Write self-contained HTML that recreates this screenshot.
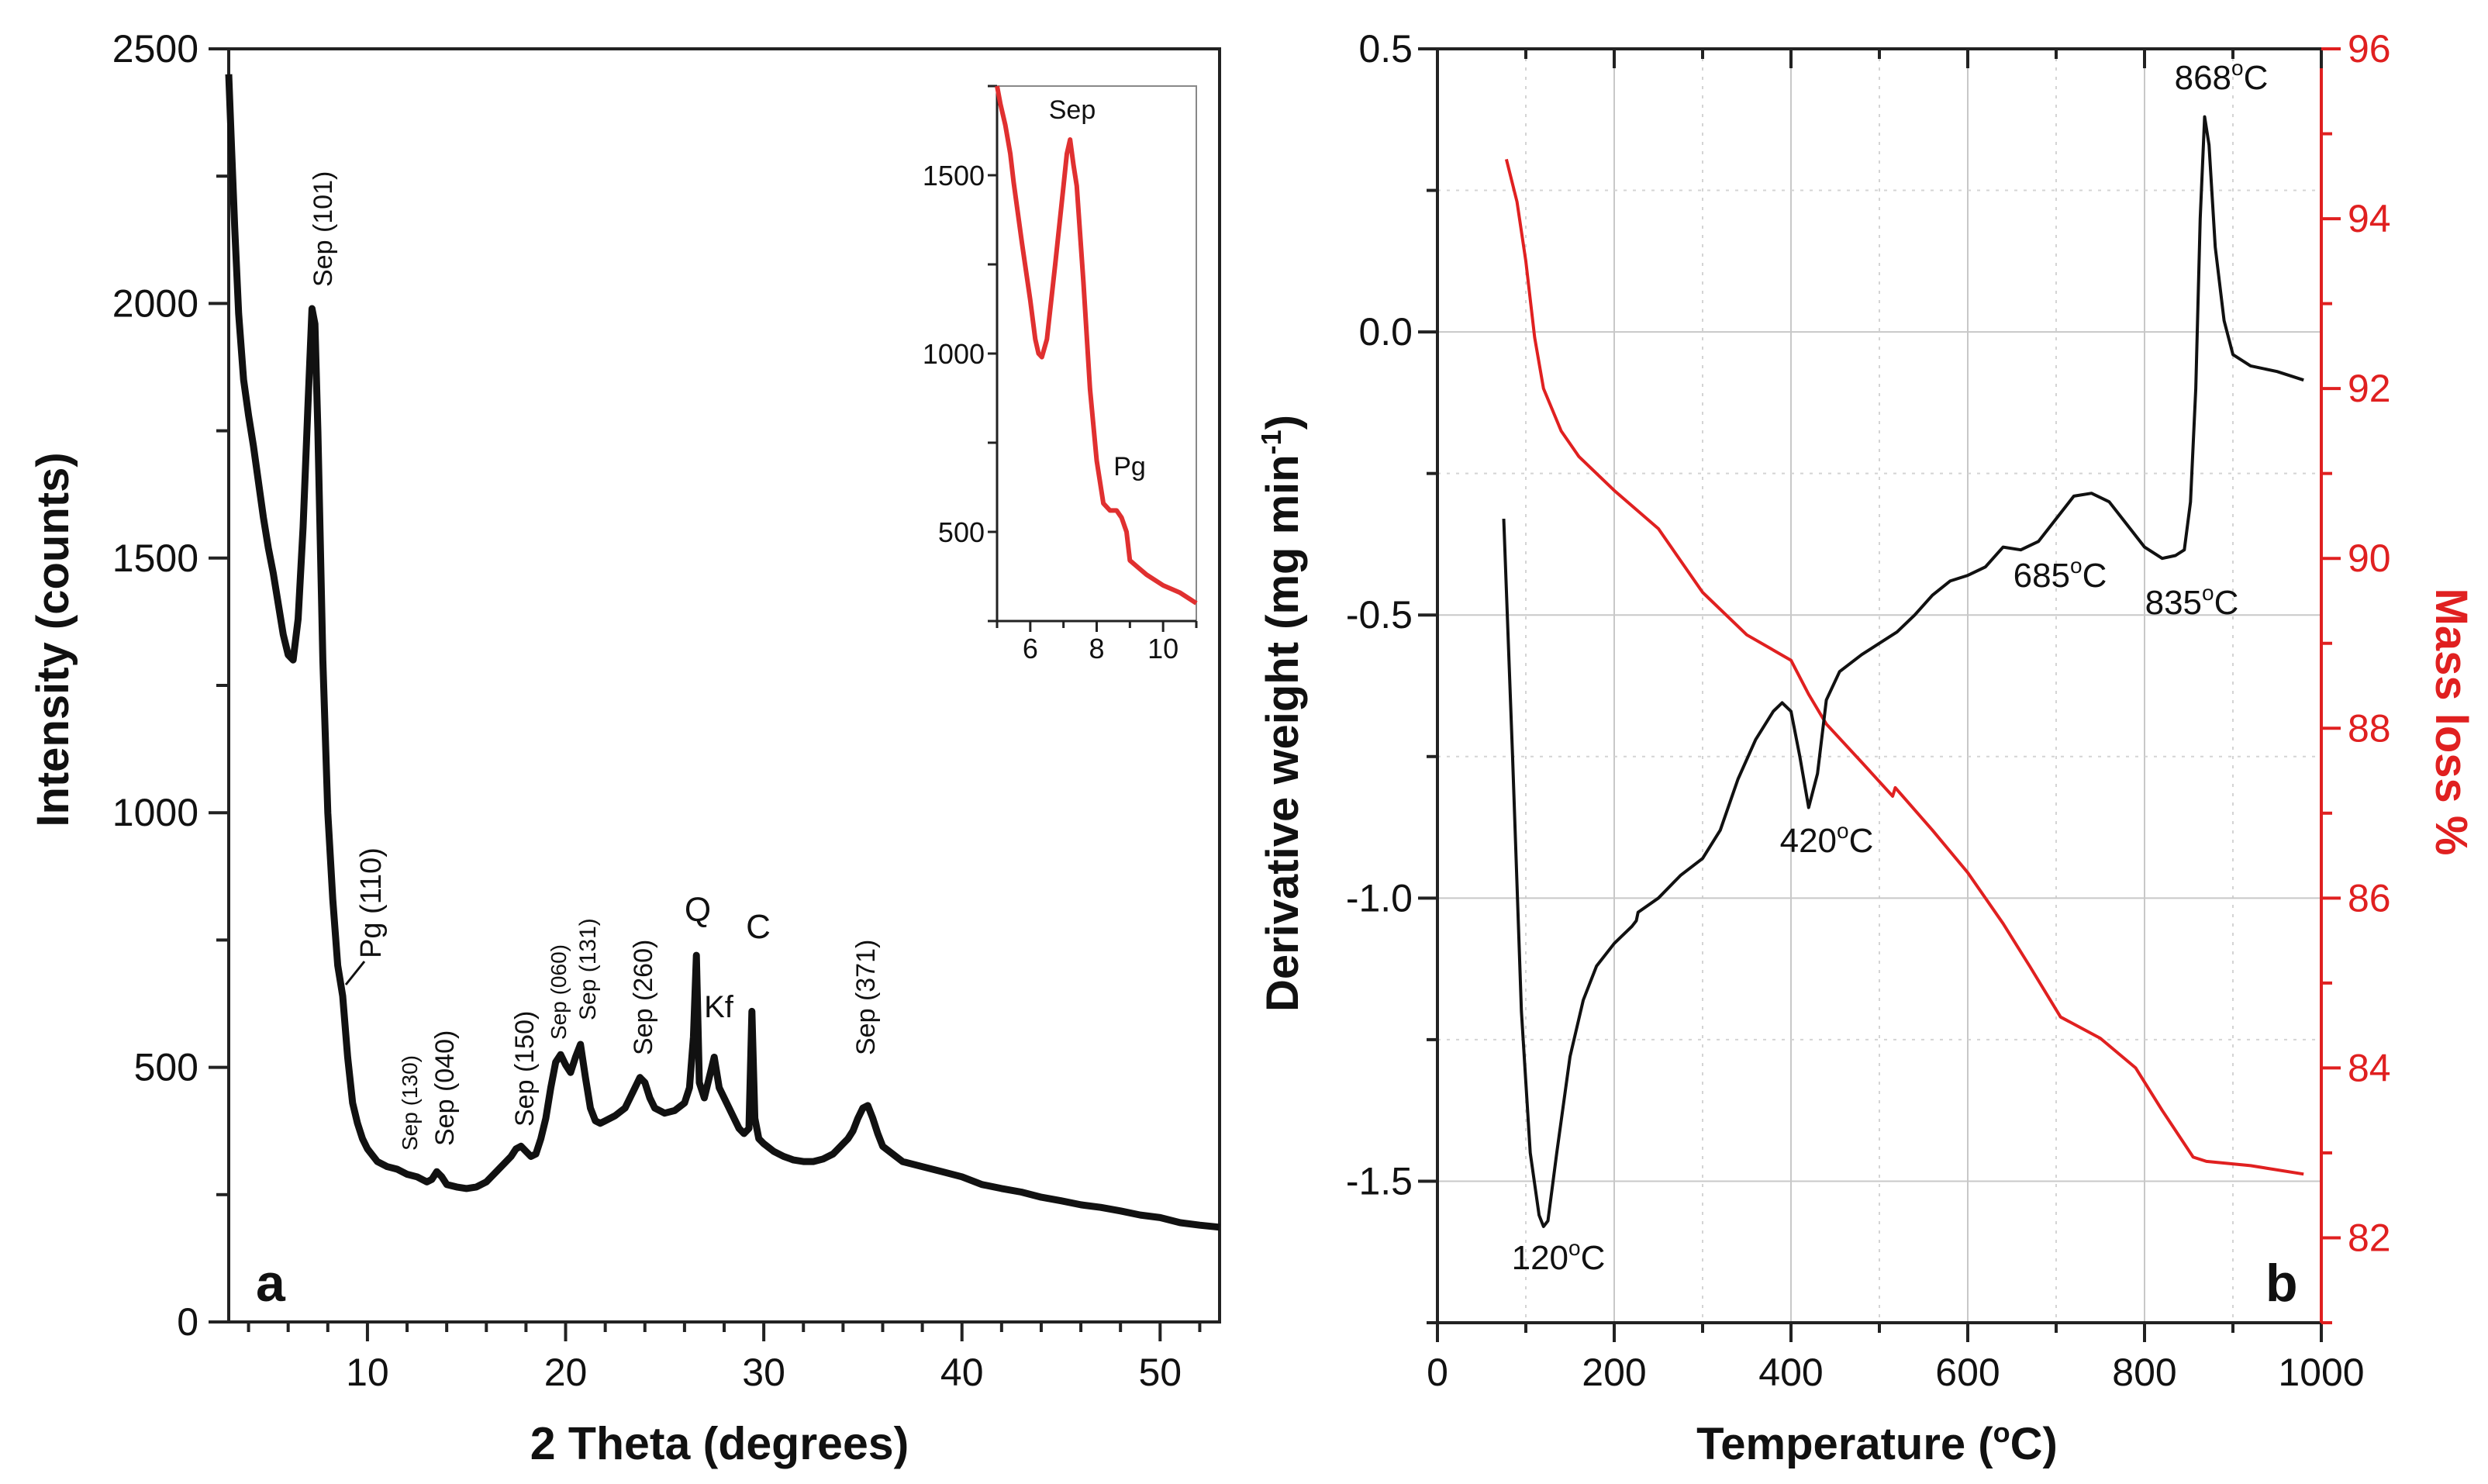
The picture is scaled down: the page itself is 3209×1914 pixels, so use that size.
<!DOCTYPE html>
<html><head><meta charset="utf-8">
<style>
html,body{margin:0;padding:0;background:#fff;}
svg{display:block;font-family:"Liberation Sans",Arial,sans-serif;}
</style></head>
<body>
<svg id="fig" width="3209" height="1914" viewBox="0 0 3209 1914" xmlns="http://www.w3.org/2000/svg"></svg>
<script>
// ---------- Panel a: XRD data ----------
const xrdTheta = [3,3.15,3.3,3.5,3.75,4,4.25,4.5,4.75,5,5.25,5.5,5.75,6,6.25,6.5,6.75,7,7.2,7.35,7.5,7.75,8,8.25,8.5,8.75,9,9.25,9.5,9.75,10,10.5,11,11.5,12,12.5,13,13.25,13.5,13.75,14,14.5,15,15.5,16,16.5,17,17.25,17.5,17.75,18,18.25,18.5,18.75,19,19.25,19.5,19.75,20,20.25,20.5,20.75,21,21.25,21.5,21.75,22,22.5,23,23.25,23.5,23.75,24,24.25,24.5,25,25.5,26,26.25,26.45,26.6,26.75,27,27.25,27.5,27.75,28,28.25,28.5,28.75,29,29.25,29.4,29.55,29.75,30,30.5,31,31.5,32,32.5,33,33.25,33.5,33.75,34,34.25,34.5,34.75,35,35.25,35.5,35.75,36,36.5,37,38,39,40,41,42,43,44,45,46,47,48,49,50,51,52,53];
const xrdCounts = [2450,2300,2150,1980,1850,1780,1720,1650,1580,1520,1470,1410,1350,1310,1300,1380,1560,1800,1990,1960,1750,1300,1000,830,700,640,520,430,390,360,340,315,305,300,290,285,275,280,295,285,270,265,262,265,275,295,315,325,340,345,335,325,330,360,400,460,510,525,505,490,520,545,480,420,395,390,395,405,420,440,460,480,470,440,420,410,415,430,460,560,720,470,440,480,520,460,440,420,400,380,370,380,610,400,360,350,335,325,318,315,315,320,325,330,340,350,360,375,400,420,425,400,370,345,330,315,305,295,285,270,262,255,245,238,230,225,218,210,205,195,190,186,185];
const xTicksA = [10,20,30,40,50];
const yTicksA = [0,500,1000,1500,2000,2500];
// inset
const insTheta = [5,5.1,5.25,5.4,5.5,5.75,6,6.15,6.25,6.35,6.5,6.75,7,7.1,7.2,7.3,7.4,7.6,7.8,8,8.2,8.4,8.6,8.75,8.9,9,9.25,9.5,10,10.5,11];
const insCounts = [1750,1700,1640,1560,1480,1310,1150,1040,1000,990,1040,1250,1470,1560,1600,1530,1470,1200,900,700,580,560,560,540,500,420,400,380,350,330,300];
const insXTicks = [6,8,10];
const insYTicks = [500,1000,1500];
// ---------- Panel b: TGA/DTG ----------
const dtgT = [75,85,95,105,115,120,125,135,150,165,180,200,220,225,227,250,275,300,320,340,360,380,390,400,410,420,430,440,455,480,500,520,540,560,580,600,620,640,660,680,700,720,740,760,780,800,820,835,845,852,858,863,868,873,880,890,900,920,950,980];
const dtgVal = [-0.33,-0.75,-1.2,-1.45,-1.56,-1.58,-1.57,-1.45,-1.28,-1.18,-1.12,-1.08,-1.05,-1.04,-1.025,-1.0,-0.96,-0.93,-0.88,-0.79,-0.72,-0.67,-0.655,-0.67,-0.75,-0.84,-0.78,-0.65,-0.6,-0.57,-0.55,-0.53,-0.5,-0.465,-0.44,-0.43,-0.415,-0.38,-0.385,-0.37,-0.33,-0.29,-0.285,-0.3,-0.34,-0.38,-0.4,-0.395,-0.385,-0.3,-0.1,0.2,0.38,0.33,0.15,0.02,-0.04,-0.06,-0.07,-0.085];
const tgT = [78,90,100,110,120,140,160,200,250,300,350,400,420,440,480,515,518,560,600,640,670,705,750,790,820,855,870,920,980];
const tgVal = [94.7,94.2,93.5,92.6,92.0,91.5,91.2,90.8,90.35,89.6,89.1,88.8,88.4,88.05,87.6,87.2,87.3,86.8,86.3,85.7,85.2,84.6,84.35,84.0,83.5,82.95,82.9,82.85,82.75];
const xTicksB = [0,200,400,600,800,1000];
const yTicksB = ["0.5","0.0","-0.5","-1.0","-1.5"];
const yTicksR = [82,84,86,88,90,92,94,96];

const NS="http://www.w3.org/2000/svg";
const svg=document.getElementById('fig');
function mk(tag,attrs,parent){const e=document.createElementNS(NS,tag);for(const k in attrs)e.setAttribute(k,attrs[k]);(parent||svg).appendChild(e);return e;}
function txt(s,attrs){const e=mk('text',attrs);e.textContent=s;return e;}

const AX0=295,AX1=1573,AY0=1705,AY1=63;
const ax=v=>AX0+(v-3)/(53-3)*(AX1-AX0);
const ay=v=>AY0-(v-0)/2500*(AY0-AY1);
let e;
e=mk('rect',{x:AX0,y:AY1,width:AX1-AX0,height:AY0-AY1,fill:'none',stroke:'#222','stroke-width':4});

for(let v=0;v<=2500;v+=250){const big=v%500===0;e=mk('line',{x1:AX0,x2:AX0-(big?26:16),y1:ay(v),y2:ay(v),stroke:'#222','stroke-width':4});}
for(let v=4;v<=52;v+=2){const big=v%10===0;e=mk('line',{x1:ax(v),x2:ax(v),y1:AY0,y2:AY0+(big?25:13),stroke:'#222','stroke-width':4});}
yTicksA.forEach(v=>{e=txt(String(v),{x:256,y:ay(v)+17,'font-size':50,'text-anchor':'end',fill:'#111'});});
xTicksA.forEach(v=>{e=txt(String(v),{x:ax(v),y:1787,'font-size':50,'text-anchor':'middle',fill:'#111'});});
e=txt('2 Theta (degrees)',{x:928,y:1882,'font-size':59,'font-weight':'bold','text-anchor':'middle',fill:'#111'});
e=txt('Intensity (counts)',{x:0,y:0,'font-size':58,'font-weight':'bold','text-anchor':'middle',fill:'#111',transform:'translate(88,825) rotate(-90)'});
e=txt('a',{x:330,y:1678,'font-size':68,'font-weight':'bold',fill:'#111'});
let d=xrdTheta.map((t,i)=>(i?'L':'M')+ax(t).toFixed(1)+','+ay(xrdCounts[i]).toFixed(1)).join('');
e=mk('path',{d:d,fill:'none',stroke:'#111','stroke-width':9,'stroke-linejoin':'round'});
const rlab=[['Sep (101)',203,181,34],['Pg (110)',233,604,38],['Sep (130)',258,725,28],['Sep (040)',280,722,34],['Sep (150)',330,710,34],['Sep (060)',352,655,28],['Sep (131)',370,643,30],['Sep (260)',405,665,34],['Sep (371)',545,665,34]];
rlab.forEach(r=>{const X=r[1]*2.0466+r[3]*0.36,Y=r[2]*2.0466;e=txt(r[0],{x:0,y:0,'font-size':r[3],fill:'#111',transform:`translate(${X.toFixed(0)},${Y.toFixed(0)}) rotate(-90)`});});
e=mk('line',{x1:446,y1:1270,x2:470,y2:1240,stroke:'#111','stroke-width':3});
[['Q',900,1188,44],['Kf',927,1312,40],['C',978,1210,44]].forEach(r=>{e=txt(r[0],{x:r[1],y:r[2],'font-size':r[3],'text-anchor':'middle',fill:'#111'});});
// inset
const IX0=1286,IX1=1543,IY0=801,IY1=111;
const ix=v=>IX0+(v-5)/6*(IX1-IX0);
const iy=v=>IY0-(v-250)/1500*(IY0-IY1);
e=mk('rect',{x:IX0,y:IY1,width:IX1-IX0,height:IY0-IY1,fill:'#fff',stroke:'#888','stroke-width':2});
e=mk('line',{x1:IX0,x2:IX0,y1:IY1,y2:IY0,stroke:'#222','stroke-width':3});
e=mk('line',{x1:IX0,x2:IX1,y1:IY0,y2:IY0,stroke:'#222','stroke-width':3});
for(let v=250;v<=1750;v+=250){e=mk('line',{x1:IX0,x2:IX0-12,y1:iy(v),y2:iy(v),stroke:'#222','stroke-width':3});}
for(let v=5;v<=11;v+=1){e=mk('line',{x1:ix(v),x2:ix(v),y1:IY0,y2:IY0+(v%2===0?14:9),stroke:'#222','stroke-width':3});}
insYTicks.forEach(v=>{e=txt(String(v),{x:IX0-16,y:iy(v)+13,'font-size':36,'text-anchor':'end',fill:'#111'});});
insXTicks.forEach(v=>{e=txt(String(v),{x:ix(v),y:IY0+48,'font-size':36,'text-anchor':'middle',fill:'#111'});});
d=insTheta.map((t,i)=>(i?'L':'M')+ix(t).toFixed(1)+','+iy(insCounts[i]).toFixed(1)).join('');
e=mk('path',{d:d,fill:'none',stroke:'#e03030','stroke-width':6,'stroke-linejoin':'round'});
e=txt('Sep',{x:1383,y:153,'font-size':34,'text-anchor':'middle',fill:'#111'});
e=txt('Pg',{x:1457,y:613,'font-size':34,'text-anchor':'middle',fill:'#111'});

// ---------- panel b ----------
const BX0=1854,BX1=2994,BY0=1706,BY1=63;
const bx=v=>BX0+v/1000*(BX1-BX0);
const by=v=>BY0-(v+1.75)/2.25*(BY0-BY1);
const br=v=>BY0-(v-81)/15*(BY0-BY1);
for(let v=100;v<1000;v+=100){const maj=v%200===0;e=mk('line',{x1:bx(v),x2:bx(v),y1:BY1,y2:BY0,stroke:maj?'#c8c8c8':'#d4d4d4','stroke-width':2,'stroke-dasharray':maj?'none':'4,8'});}
for(let v=-1.5;v<=0.26;v+=0.25){const maj=Math.abs(v*2-Math.round(v*2))<1e-6;e=mk('line',{x1:BX0,x2:BX1,y1:by(v),y2:by(v),stroke:maj?'#c8c8c8':'#d4d4d4','stroke-width':2,'stroke-dasharray':maj?'none':'4,8'});}
e=mk('line',{x1:BX0,x2:BX1,y1:BY1,y2:BY1,stroke:'#222','stroke-width':4});
e=mk('line',{x1:BX0,x2:BX1,y1:BY0,y2:BY0,stroke:'#222','stroke-width':4});
e=mk('line',{x1:BX0,x2:BX0,y1:BY1,y2:BY0,stroke:'#222','stroke-width':4});
e=mk('line',{x1:BX1,x2:BX1,y1:BY1,y2:BY0,stroke:'#e02020','stroke-width':4});
for(let v=0;v<=1000;v+=100){const maj=v%200===0;
 e=mk('line',{x1:bx(v),x2:bx(v),y1:BY0,y2:BY0+(maj?25:13),stroke:'#222','stroke-width':4});
 e=mk('line',{x1:bx(v),x2:bx(v),y1:BY1,y2:BY1+(maj?25:13),stroke:'#222','stroke-width':4});}
for(let v=-1.75;v<=0.51;v+=0.25){const maj=Math.abs(v*2-Math.round(v*2))<1e-6;e=mk('line',{x1:BX0,x2:BX0-(maj?25:14),y1:by(v),y2:by(v),stroke:'#222','stroke-width':4});}
for(let v=81;v<=96;v+=1){const maj=v%2===0;e=mk('line',{x1:BX1,x2:BX1+(maj?25:14),y1:br(v),y2:br(v),stroke:'#e02020','stroke-width':4});}
xTicksB.forEach(v=>{e=txt(String(v),{x:bx(v),y:1787,'font-size':50,'text-anchor':'middle',fill:'#111'});});
yTicksB.forEach(s=>{e=txt(s,{x:1822,y:by(parseFloat(s))+17,'font-size':50,'text-anchor':'end',fill:'#111'});});
yTicksR.forEach(v=>{e=txt(String(v),{x:3028,y:br(v)+17,'font-size':50,'text-anchor':'start',fill:'#e02020'});});
e=txt('',{x:2421,y:1882,'font-size':58,'font-weight':'bold','text-anchor':'middle',fill:'#111'});
e.innerHTML='Temperature (<tspan font-size="36" dy="-22">o</tspan><tspan dy="22">C)</tspan>';

e=txt('',{x:0,y:0,'font-size':58,'font-weight':'bold','text-anchor':'middle',fill:'#111',transform:'translate(1674,920) rotate(-90)'});
e.innerHTML='Derivative weight (mg min<tspan font-size="36" dy="-22">-1</tspan><tspan dy="22">)</tspan>';

e=txt('Mass loss %',{x:0,y:0,'font-size':58,'font-weight':'bold','text-anchor':'middle',fill:'#e02020',transform:'translate(3142,931) rotate(90)'});
e=txt('b',{x:2922,y:1678,'font-size':68,'font-weight':'bold',fill:'#111'});
d=tgT.map((t,i)=>(i?'L':'M')+bx(t).toFixed(1)+','+br(tgVal[i]).toFixed(1)).join('');
e=mk('path',{d:d,fill:'none',stroke:'#e02020','stroke-width':4,'stroke-linejoin':'round'});
d=dtgT.map((t,i)=>(i?'L':'M')+bx(t).toFixed(1)+','+by(dtgVal[i]).toFixed(1)).join('');
e=mk('path',{d:d,fill:'none',stroke:'#111','stroke-width':4,'stroke-linejoin':'round'});
[['868',2865,115],['685',2657,757],['835',2827,792],['420',2356,1099],['120',2010,1637]].forEach(r=>{
 e=txt('',{x:r[1],y:r[2],'font-size':44,'text-anchor':'middle',fill:'#111'});
 e.innerHTML=r[0]+'<tspan font-size="28" dy="-18">o</tspan><tspan dy="18">C</tspan>';
 });
</script>
</body></html>
